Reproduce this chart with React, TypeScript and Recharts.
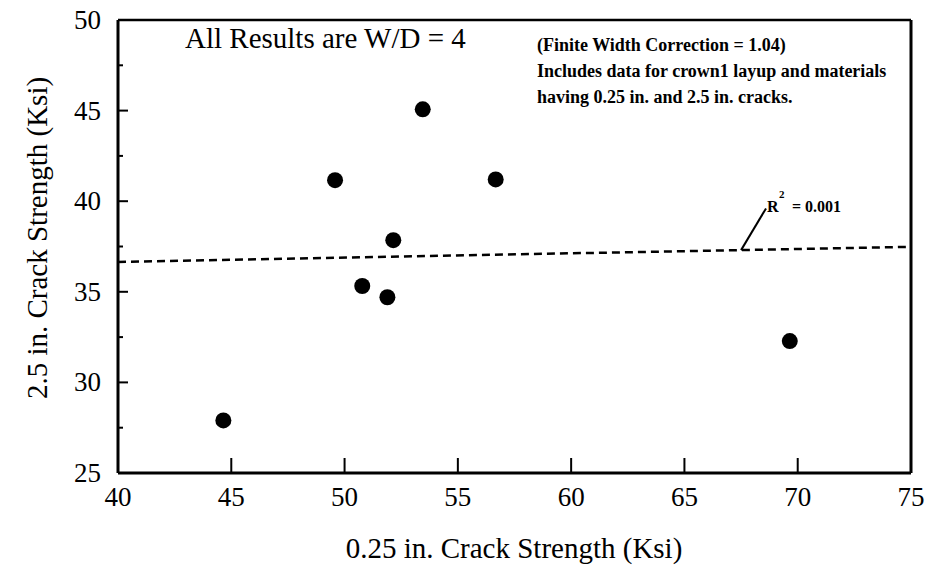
import React from "react";
import { ScatterChart, Scatter, XAxis, YAxis, ReferenceLine } from "recharts";

const points = [
  { x: 44.65, y: 27.9 },
  { x: 49.58, y: 41.16 },
  { x: 53.45, y: 45.07 },
  { x: 56.67, y: 41.2 },
  { x: 52.15, y: 37.85 },
  { x: 50.78, y: 35.32 },
  { x: 51.89, y: 34.7 },
  { x: 69.65, y: 32.28 },
];
const trend = [
  { x: 40, y: 36.65 },
  { x: 75, y: 37.48 },
];
const leader = [
  { x: 67.5, y: 37.3 },
  { x: 68.6, y: 39.6 },
];
const xTicks = [40, 45, 50, 55, 60, 65, 70, 75];
const yTicks = [25, 27.5, 30, 32.5, 35, 37.5, 40, 42.5, 45, 47.5, 50];

const FONT = "'Liberation Serif', 'Times New Roman', serif";

const XTick = (props: any) => {
  const { x, y, payload } = props;
  const v = payload.value;
  const inner = v !== 40 && v !== 75;
  return (
    <g>
      {inner && <line x1={x} y1={y} x2={x} y2={y - 15} stroke="#000" strokeWidth={2} />}
      <text x={x} y={y + 33} textAnchor="middle" fontFamily={FONT} fontSize={27} fill="#000">
        {v}
      </text>
    </g>
  );
};

const YTick = (props: any) => {
  const { x, y, payload } = props;
  const v = payload.value;
  const major = v % 5 === 0;
  const inner = v !== 25 && v !== 50;
  return (
    <g>
      {inner && <line x1={x} y1={y} x2={x + (major ? 10 : 5)} y2={y} stroke="#000" strokeWidth={2} />}
      {major && (
        <text x={x - 17} y={y + 9} textAnchor="end" fontFamily={FONT} fontSize={27} fill="#000">
          {v}
        </text>
      )}
    </g>
  );
};

const Dot = (props: any) => <circle cx={props.cx} cy={props.cy} r={8} fill="#000" />;
const NoShape = () => <g />;

export default function App() {
  return (
    <div style={{ position: "absolute", left: 0, top: 0, width: 929, height: 566, background: "#fff" }}>
      <ScatterChart width={929} height={566} margin={{ top: 20, right: 18, bottom: 0, left: 18 }}>
        <XAxis
          type="number"
          dataKey="x"
          domain={[40, 75]}
          ticks={xTicks}
          interval={0}
          allowDataOverflow
          height={93}
          tickSize={0}
          tickMargin={0}
          tickLine={false}
          tick={<XTick />}
          axisLine={{ stroke: "#000", strokeWidth: 3 }}
        />
        <YAxis
          type="number"
          dataKey="y"
          domain={[25, 50]}
          ticks={yTicks}
          interval={0}
          allowDataOverflow
          width={100}
          tickSize={0}
          tickMargin={0}
          tickLine={false}
          tick={<YTick />}
          axisLine={{ stroke: "#000", strokeWidth: 3 }}
        />
        <ReferenceLine y={50} stroke="#000" strokeWidth={2.5} />
        <ReferenceLine x={75} stroke="#000" strokeWidth={3} />
        <Scatter
          data={trend}
          line={{ stroke: "#000", strokeWidth: 2.5, strokeDasharray: "8 5" }}
          shape={<NoShape />}
          isAnimationActive={false}
        />
        <ReferenceLine segment={leader} stroke="#000" strokeWidth={2} />
        <Scatter data={points} shape={<Dot />} isAnimationActive={false} />
        <text x={185} y={48} fontFamily={FONT} fontSize={29} fill="#000">
          All Results are W/D = 4
        </text>
        <g fontFamily={FONT} fontSize={18} fontWeight="bold" fill="#000">
          <text x={537} y={51}>(Finite Width Correction = 1.04)</text>
          <text x={537} y={77}>Includes data for crown1 layup and materials</text>
          <text x={537} y={103}>having 0.25 in. and 2.5 in. cracks.</text>
        </g>
        <g fontFamily={FONT} fontWeight="bold" fill="#000">
          <text x={767} y={212} fontSize={16}>R</text>
          <text x={779} y={198} fontSize={11}>2</text>
          <text x={792} y={212} fontSize={16}>= 0.001</text>
        </g>
        <text x={514} y={558} textAnchor="middle" fontFamily={FONT} fontSize={29} fill="#000">
          0.25 in. Crack Strength (Ksi)
        </text>
        <text
          x={0}
          y={0}
          transform="translate(47,238) rotate(-90)"
          textAnchor="middle"
          fontFamily={FONT}
          fontSize={29}
          fill="#000"
        >
          2.5 in. Crack Strength (Ksi)
        </text>
      </ScatterChart>
    </div>
  );
}
